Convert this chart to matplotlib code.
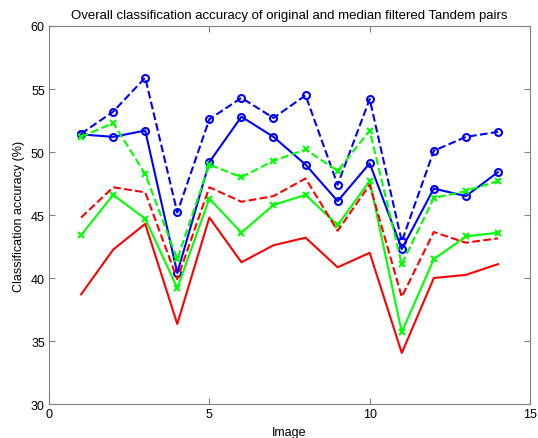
import matplotlib
matplotlib.use('Agg')
import matplotlib.pyplot as plt
import numpy as np

#######################################################################
#                                Data                                 #
#######################################################################
images = np.arange(1, 15)

blue_dashed = [51.45, 53.2, 55.9, 45.2, 52.6, 54.3, 52.7, 54.5, 47.4, 54.2, 42.9, 50.1, 51.2, 51.6]
blue_solid = [51.4, 51.2, 51.7, 40.4, 49.2, 52.8, 51.2, 49.0, 46.1, 49.1, 42.3, 47.1, 46.5, 48.4]
green_dashed = [51.2, 52.3, 48.25, 41.5, 49.0, 48.0, 49.3, 50.2, 48.5, 51.7, 41.1, 46.35, 46.9, 47.7]
green_solid = [43.4, 46.6, 44.7, 39.2, 46.3, 43.6, 45.8, 46.6, 44.2, 47.7, 35.7, 41.5, 43.3, 43.6]
red_dashed = [44.8, 47.2, 46.8, 39.9, 47.2, 46.05, 46.5, 47.9, 43.75, 47.4, 38.5, 43.65, 42.8, 43.15]
red_solid = [38.7, 42.25, 44.3, 36.35, 44.8, 41.25, 42.6, 43.2, 40.85, 42.0, 34.05, 40.0, 40.25, 41.1]

xticks = [0, 5, 10, 15]
yticks = [30, 35, 40, 45, 50, 55, 60]

#######################################################################
#                                Plot                                 #
#######################################################################
plt.rcParams['font.family'] = ['Liberation Sans', 'DejaVu Sans']
plt.rcParams['font.size'] = 9

fig = plt.figure(figsize=(5.38, 4.39), dpi=100)
ax = fig.add_axes([0.0911, 0.0774, 0.8941, 0.8611])

lw = 1.5
ax.plot(images, blue_dashed, '--o', color=(0, 0, 1), lw=lw, ms=5, mfc='none', mew=1.5)
ax.plot(images, blue_solid, '-o', color=(0, 0, 1), lw=lw, ms=5, mfc='none', mew=1.5)
ax.plot(images, green_dashed, '--x', color=(0, 1, 0), lw=lw, ms=4.5, mew=1.5)
ax.plot(images, green_solid, '-x', color=(0, 1, 0), lw=lw, ms=4.5, mew=1.5)
ax.plot(images, red_dashed, '--', color=(1, 0, 0), lw=lw)
ax.plot(images, red_solid, '-', color=(1, 0, 0), lw=lw)

ax.set_xlim(0, 15)
ax.set_ylim(30, 60)
ax.set_xticks(xticks)
ax.set_yticks(yticks)

for sp in ax.spines.values():
    sp.set_color('#808080')
    sp.set_linewidth(0.8)
ax.tick_params(direction='in', length=4, width=0.8, color='#808080',
               top=True, right=True, labelsize=9, pad=3)

ax.set_xlabel('Image', fontsize=9, labelpad=4)
ax.set_ylabel('Classification accuracy (%)', fontsize=9, labelpad=4)
ax.set_title('Overall classification accuracy of original and median filtered Tandem pairs',
             fontsize=9.5, pad=6)

fig.savefig('out.png', dpi=100)
